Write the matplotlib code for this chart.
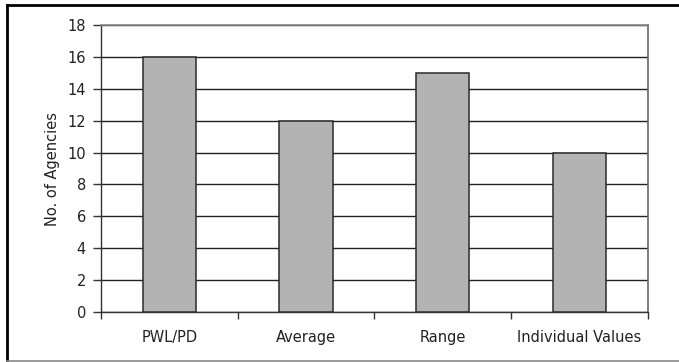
import numpy as np
import matplotlib.pyplot as plt
from matplotlib.lines import Line2D

plt.rcParams['font.family'] = ['DejaVu Sans']

categories = ['PWL/PD', 'Average', 'Range', 'Individual Values']
agencies = [16, 12, 15, 10]
yticks = [0, 2, 4, 6, 8, 10, 12, 14, 16, 18]

fig = plt.figure(figsize=(6.79, 3.62), dpi=100)
ax = fig.add_axes([0.149, 0.138, 0.805, 0.793])

x = np.arange(len(categories))
ax.bar(x, agencies, width=0.39, color='#b3b3b3', edgecolor='#2a2a2a',
       linewidth=1.1, zorder=3)

ax.set_xlim(-0.5, len(categories) - 0.5)
ax.set_ylim(0, 18)
ax.set_yticks(yticks)
ax.yaxis.grid(True, color='#222222', linewidth=1.0, zorder=0)
ax.set_axisbelow(True)

# category labels centered, ticks on the boundaries
ax.set_xticks(x)
ax.set_xticklabels(categories, fontsize=10.5, color='#222222')
ax.tick_params(axis='x', length=0, pad=13)
ax.set_xticks(np.arange(len(categories) + 1) - 0.5, minor=True)
ax.tick_params(axis='x', which='minor', length=5, direction='out',
               color='#333333', width=1)
ax.tick_params(axis='y', length=6, direction='out', color='#333333',
               width=1, labelsize=10.5, labelcolor='#222222', pad=5)

ax.set_ylabel('No. of Agencies', fontsize=10.5, color='#222222', labelpad=5)

for s in ['left', 'bottom']:
    ax.spines[s].set_color('#333333')
    ax.spines[s].set_linewidth(1.0)
ax.spines['right'].set_color('#666666')
ax.spines['right'].set_linewidth(1.2)
ax.spines['top'].set_color('#888888')
ax.spines['top'].set_linewidth(1.2)

# outer frame of the figure
fig.add_artist(Line2D([7 / 679, 1.0], [1 - 5 / 362, 1 - 5 / 362],
                      transform=fig.transFigure, color='black', linewidth=2))
fig.add_artist(Line2D([7 / 679, 7 / 679], [1 - 5 / 362, 1 - 361 / 362],
                      transform=fig.transFigure, color='black', linewidth=2))
fig.add_artist(Line2D([7 / 679, 1.0], [1 - 360.5 / 362, 1 - 360.5 / 362],
                      transform=fig.transFigure, color='#888888', linewidth=1.2))

fig.savefig('out.png', dpi=100)
